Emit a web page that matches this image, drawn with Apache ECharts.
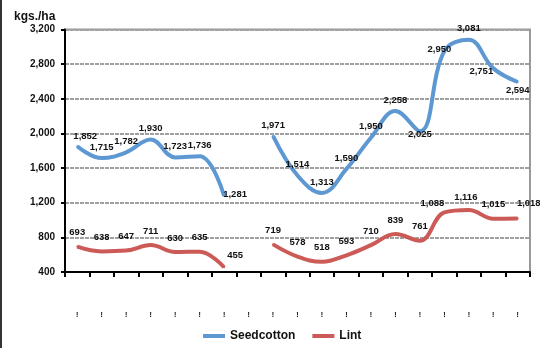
<!DOCTYPE html>
<html>
<head>
<meta charset="utf-8">
<script src="https://cdn.jsdelivr.net/npm/echarts@6/dist/echarts.min.js"></script>
<style>
  html, body { margin: 0; padding: 0; background: #fff; }
  #chart { width: 540px; height: 348px; }
</style>
</head>
<body>
<div id="chart"></div>
<script>
// tick labels on x axis are squashed in the source, only tiny marks remain
const categories = ['!', '!', '!', '!', '!', '!', '!', '!', '!', '!',
  '!', '!', '!', '!', '!', '!', '!', '!', '!']
const seedcotton = [1852, 1715, 1782, 1930, 1723, 1736, 1281, null,
  1971, 1514, 1313, 1590, 1950, 2258, 2025, 2950, 3081, 2751, 2594]
const lint = [693, 638, 647, 711, 630, 635, 455, null,
  719, 578, 518, 593, 710, 839, 761, 1088, 1116, 1015, 1018]
const yTicks = [400, 800, 1200, 1600, 2000, 2400, 2800, 3200]

// label shift from the point [dx, dy] for the labels that are not simply on top
const seedLabelShift = {
  0: [8, -10],
  6: [11, -1],
  14: [0, 3],
  15: [-5, -2],
  17: [-12, 3],
  18: [0, 8],
}
const lintLabelShift = {
  6: [11, -12],
  15: [-12, -9],
  16: [-3, -13],
  18: [11, -15],
}

const fmt = (v) => v.toLocaleString('en-US')

function buildData(values, shifts) {
  return values.map((v, i) => {
    if (v == null) return null
    const item = { value: v }
    if (shifts[i]) {
      item.label = {
        position: [shifts[i][0] + 1, shifts[i][1] + 1],
        align: 'center',
        verticalAlign: 'middle',
      }
    }
    return item
  })
}

const chart = echarts.init(document.getElementById('chart'))
const labelStyle = {
  show: true,
  position: 'top',
  distance: 5,
  color: '#111',
  fontSize: 9.5,
  fontWeight: 'bold',
  fontFamily: 'Liberation Sans, Arial',
  formatter: (p) => fmt(p.value),
}

const options = {
  animation: false,
  grid: {
    left: 65,
    right: 10,
    top: 29.5,
    bottom: 76,
    show: true,
    borderColor: '#999',
    borderWidth: 2,
  },
  graphic: [{
    type: 'line',
    shape: { x1: 1, y1: 0, x2: 1, y2: 348 },
    style: { stroke: '#333', lineWidth: 2 },
  }],
  legend: {
    top: 325,
    left: 198,
    itemWidth: 22,
    itemHeight: 4,
    itemGap: 17,
    icon: 'rect',
    textStyle: {
      fontSize: 12,
      fontWeight: 'bold',
      color: '#111',
      fontFamily: 'Liberation Sans, Arial',
    },
    data: ['Seedcotton', 'Lint'],
  },
  xAxis: {
    type: 'category',
    data: categories,
    boundaryGap: true,
    axisLine: { lineStyle: { color: '#000', width: 2 } },
    axisTick: { show: true, length: 5, lineStyle: { color: '#000', width: 2 } },
    axisLabel: { margin: 40, fontSize: 7, color: '#000', fontWeight: 'bold' },
    splitLine: { show: false },
  },
  yAxis: {
    type: 'value',
    name: 'kgs./ha',
    nameLocation: 'end',
    nameGap: 7,
    nameTextStyle: {
      align: 'left',
      padding: [0, 0, 0, -51],
      fontSize: 12,
      fontWeight: 'bold',
      color: '#111',
      fontFamily: 'Liberation Sans, Arial',
    },
    min: yTicks[0],
    max: yTicks[yTicks.length - 1],
    interval: 400,
    axisLine: { show: true, lineStyle: { color: '#000', width: 2 } },
    axisTick: { show: true, length: 4, lineStyle: { color: '#000', width: 2 } },
    axisLabel: {
      color: '#111',
      fontSize: 10,
      fontWeight: 'bold',
      margin: 10,
      fontFamily: 'Liberation Sans, Arial',
      formatter: (v) => fmt(v),
    },
    splitLine: {
      show: true,
      lineStyle: { color: '#a0a0a0', width: 2, type: [4, 1] },
    },
  },
  series: [
    {
      name: 'Seedcotton',
      type: 'line',
      smooth: 0.4,
      connectNulls: false,
      showSymbol: true,
      symbol: 'circle',
      symbolSize: 2,
      color: '#5e98d2',
      itemStyle: { color: '#5e98d2' },
      lineStyle: { width: 4, color: '#5e98d2' },
      label: labelStyle,
      labelLayout: { hideOverlap: false },
      data: buildData(seedcotton, seedLabelShift),
    },
    {
      name: 'Lint',
      type: 'line',
      smooth: 0.4,
      connectNulls: false,
      showSymbol: true,
      symbol: 'circle',
      symbolSize: 2,
      color: '#cc5b57',
      itemStyle: { color: '#cc5b57' },
      lineStyle: { width: 4, color: '#cc5b57' },
      label: Object.assign({}, labelStyle, { distance: 8 }),
      labelLayout: { hideOverlap: false },
      data: buildData(lint, lintLabelShift),
    },
  ],
}
chart.setOption(options)
</script>
</body>
</html>
